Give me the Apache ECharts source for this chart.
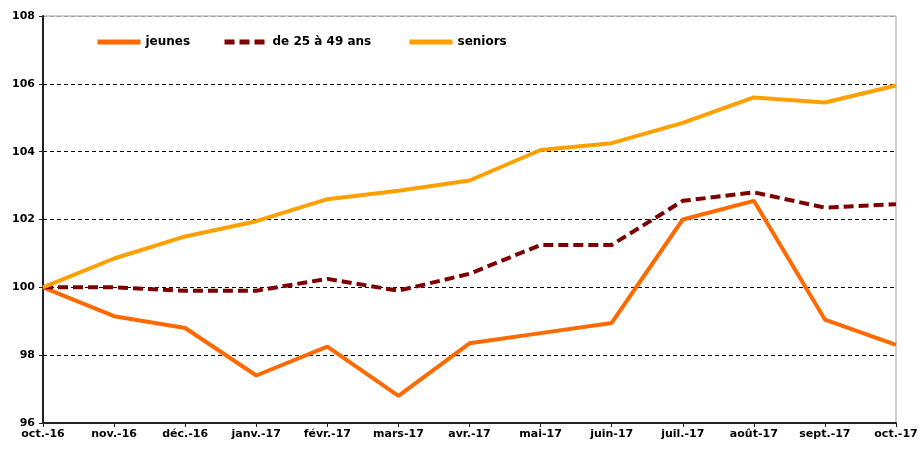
<!DOCTYPE html>
<html>
<head>
<meta charset="utf-8">
<script src="https://cdn.jsdelivr.net/npm/echarts@6/dist/echarts.min.js"></script>
<style>
  html, body { margin: 0; padding: 0; background: #fff; }
  #chart { width: 922px; height: 450px; }
</style>
</head>
<body>
<div id="chart"></div>
<script>
// --- Data ---
const months = ['oct.-16', 'nov.-16', 'déc.-16', 'janv.-17', 'févr.-17', 'mars-17', 'avr.-17',
                'mai-17', 'juin-17', 'juil.-17', 'août-17', 'sept.-17', 'oct.-17'];
const jeunes  = [100, 99.15, 98.8, 97.4, 98.25, 96.8, 98.35, 98.65, 98.95, 102.0, 102.55, 99.05, 98.3];
const adultes = [100, 100.0, 99.9, 99.9, 100.25, 99.9, 100.4, 101.25, 101.25, 102.55, 102.8, 102.35, 102.45];
const seniors = [100, 100.85, 101.5, 101.95, 102.6, 102.85, 103.15, 104.05, 104.25, 104.85, 105.6, 105.45, 105.95];

const font = 'DejaVu Sans';
const chart = echarts.init(document.getElementById('chart'));

// one legend per item so each sits where the original puts it
const legendBase = {
    top: 31, itemWidth: 43, itemHeight: 14, itemGap: 6,
    itemStyle: { opacity: 0 },
    lineStyle: { width: 5 },
    textStyle: { fontFamily: font, fontWeight: 'bold', fontSize: 12, color: '#000' }
};

chart.setOption({
    animation: false,
    legend: [
        Object.assign({ left: 90, data: ['jeunes'] }, legendBase),
        Object.assign({ left: 217, data: ['de 25 à 49 ans'] }, legendBase),
        Object.assign({ left: 402, data: ['seniors'] }, legendBase)
    ],
    grid: { left: 43, right: 26, top: 16, bottom: 27, show: true, borderColor: '#a0a0a0', borderWidth: 1 },
    xAxis: {
        type: 'category',
        data: months,
        boundaryGap: false,
        axisLine: { lineStyle: { color: '#222', width: 2 } },
        axisTick: { alignWithLabel: true, length: 4, lineStyle: { color: '#222' } },
        axisLabel: { fontFamily: font, fontWeight: 'bold', fontSize: 11, color: '#000', margin: 6, interval: 0 }
    },
    yAxis: {
        type: 'value',
        min: 96, max: 108, interval: 2,
        axisLine: { show: true, lineStyle: { color: '#222', width: 2 } },
        axisTick: { show: true, length: 4, lineStyle: { color: '#222' } },
        axisLabel: { fontFamily: font, fontWeight: 'bold', fontSize: 11, color: '#000', margin: 8 },
        splitLine: { lineStyle: { color: ['#000', '#000', '#000', '#000', '#000', '#000', '#a0a0a0'], type: [4, 3], width: 1 } }
    },
    series: [
        { name: 'jeunes', type: 'line', data: jeunes, symbol: 'none',
          lineStyle: { color: '#ff6a00', width: 4 }, itemStyle: { color: '#ff6a00' } },
        { name: 'de 25 à 49 ans', type: 'line', data: adultes, symbol: 'none',
          lineStyle: { color: '#7f0000', width: 4, type: [10, 5] }, itemStyle: { color: '#7f0000' } },
        { name: 'seniors', type: 'line', data: seniors, symbol: 'none',
          lineStyle: { color: '#ffa000', width: 4 }, itemStyle: { color: '#ffa000' } }
    ]
});
</script>
</body>
</html>
